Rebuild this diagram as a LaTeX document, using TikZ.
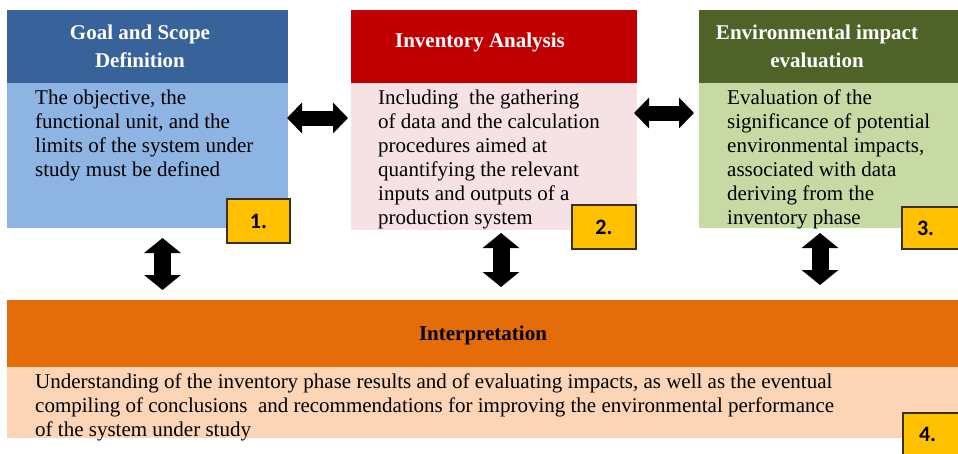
\documentclass[tikz,border=0pt]{standalone}
\usepackage{fontspec}
\setmainfont{Liberation Serif}
\newfontfamily\lblfont{Carlito}
\usetikzlibrary{arrows.meta}
\definecolor{hdrblue}{HTML}{37629A}
\definecolor{bodyblue}{HTML}{8EB4E3}
\definecolor{hdrred}{HTML}{C00000}
\definecolor{bodypink}{HTML}{F6E2E4}
\definecolor{hdrgreen}{HTML}{4F6228}
\definecolor{bodygreen}{HTML}{C8DAA3}
\definecolor{hdrorange}{HTML}{E46C0A}
\definecolor{bodypeach}{HTML}{FBD5B6}
\definecolor{lblyellow}{HTML}{FFC000}
\definecolor{lblborder}{HTML}{3A3020}
\tikzset{
  box/.style={anchor=north west, inner sep=0pt, outer sep=0pt, draw=none},
  hdrtext/.style={align=center, inner sep=0pt, text=white, font=\bfseries\fontsize{21}{28}\selectfont},
  bodytext/.style={align=left, anchor=north west, inner sep=0pt, font=\fontsize{21}{24}\selectfont},
  lbl/.style={anchor=north west, inner sep=0pt, outer sep=0pt, fill=lblyellow, draw=lblborder, line width=1.2pt, font=\lblfont\bfseries\fontsize{22}{24}\selectfont},
  bigtip/.tip={Triangle[length=15pt 0 0, width=30pt 0 0]},
  vtip/.tip={Triangle[length=15pt 0 0, width=36pt 0 0]},
  harrow/.style={line width=15pt, bigtip-bigtip},
  varrow/.style={line width=17pt, vtip-vtip}
}
\begin{document}
\begin{tikzpicture}[x=1pt,y=-1pt]
\useasboundingbox (0,0) rectangle (958,453);
\fill[white] (0,0) rectangle (958,453);
% boxes
\node[box, fill=hdrblue, minimum width=281pt, minimum height=73pt] (h1) at (7,10) {};
\node[box, fill=bodyblue, minimum width=281pt, minimum height=145pt] (b1) at (7,83) {};
\node[box, fill=hdrred, minimum width=286pt, minimum height=73pt] (h2) at (351,10) {};
\node[box, fill=bodypink, minimum width=286pt, minimum height=147pt] (b2) at (351,83) {};
\node[box, fill=hdrgreen, minimum width=259pt, minimum height=73pt] (h3) at (699,10) {};
\node[box, fill=bodygreen, minimum width=259pt, minimum height=145pt] (b3) at (699,83) {};
\node[box, fill=hdrorange, minimum width=951pt, minimum height=67pt] (ih) at (7,300) {};
\node[box, fill=bodypeach, minimum width=951pt, minimum height=71pt] (ib) at (7,367) {};
% header texts
\node[hdrtext] (t1) at (140,46) {Goal and Scope\\Definition};
\node[hdrtext] (t2) at (480,42) {Inventory Analysis};
\node[hdrtext] (t3) at (817,46) {Environmental impact\\evaluation};
\node[hdrtext, text=black] (t4) at (483,335) {Interpretation};
% body texts
\node[bodytext] (d1) at (35,90) {The objective, the\\functional unit, and the\\limits of the system under\\study must be defined};
\node[bodytext] (d2) at (378,90) {Including\ \ the gathering\\of data and the calculation\\procedures aimed at\\quantifying the relevant\\inputs and outputs of a\\production system};
\node[bodytext] (d3) at (727,90) {Evaluation of the\\significance of potential\\environmental impacts,\\associated with data\\deriving from the\\inventory phase};
\node[bodytext] (d4) at (35,374) {Understanding of the inventory phase results and of evaluating impacts, as well as the eventual\\compiling of conclusions\ \ and recommendations for improving the environmental performance\\of the system under study};
% labels
\node[lbl, minimum width=63pt, minimum height=44pt] (l1) at (227,199) {1.};
\node[lbl, minimum width=64pt, minimum height=44pt] (l2) at (572,205) {2.};
\node[lbl, minimum width=60pt, minimum height=42pt, text width=56pt, align=left] (l3) at (902,207) {\hspace*{13pt}3.};
\node[lbl, minimum width=60pt, minimum height=42pt, text width=56pt, align=left] (l4) at (903,413) {\hspace*{14pt}4.};
% arrows
\draw[harrow, shorten <=-1pt, shorten >=3pt] ([yshift=-35pt]b1.north east) -- ([yshift=-35pt]b2.north west);
\draw[harrow, shorten <=-3pt, shorten >=5pt] ([yshift=-30pt]b2.north east) -- ([yshift=-30pt]b3.north west);
\draw[varrow, shorten <=10pt, shorten >=10pt] ([xshift=15pt]b1.south) -- ([xshift=15pt]b1.south |- ih.north);
\draw[varrow, shorten <=3pt, shorten >=13pt] ([xshift=7pt]b2.south) -- ([xshift=7pt]b2.south |- ih.north);
\draw[varrow, shorten <=5pt, shorten >=15pt] ([xshift=-8.5pt]b3.south) -- ([xshift=-8.5pt]b3.south |- ih.north);
\end{tikzpicture}
\end{document}
